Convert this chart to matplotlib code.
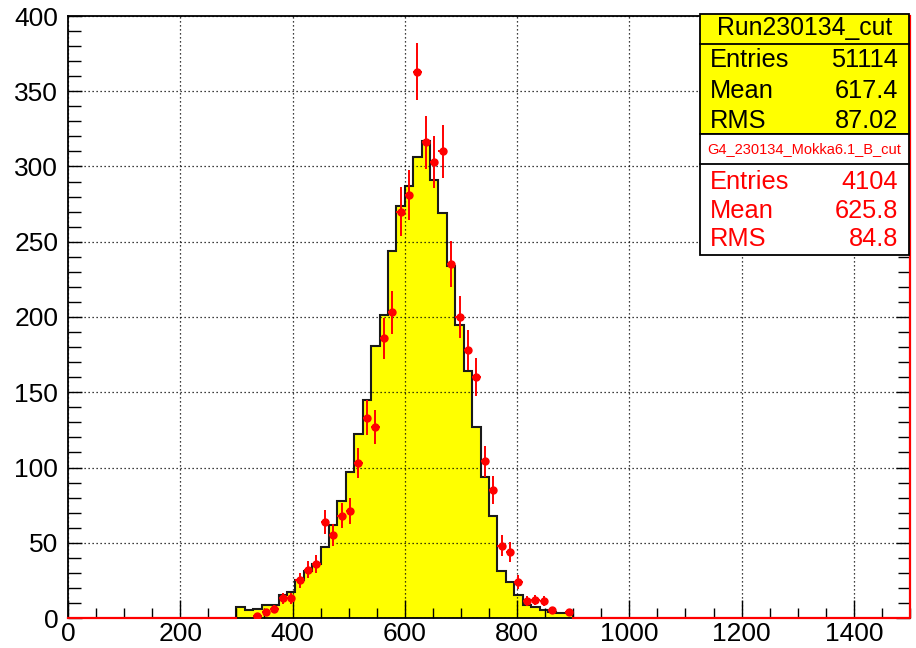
import numpy as np
import matplotlib
matplotlib.use("Agg")
import matplotlib.pyplot as plt
from matplotlib.patches import Rectangle
from matplotlib.lines import Line2D

plt.rcParams['font.family'] = ['Liberation Sans', 'DejaVu Sans']

# Binning: 100 bins of width 15 between 0 and 1500
x_min, x_max, bin_width = 0, 1500, 15
y_max = 400

# Filled histogram (Run230134_cut, normalised), bins from 300 to 900
data_first_edge = 300
data_counts = [7.5, 5, 6, 8.5, 8.5, 15, 17, 25, 31, 36,
               47, 62, 78, 97, 122, 145, 181, 201, 244, 274,
               287, 306, 317, 291, 269, 234, 195, 164, 127, 94,
               68, 31, 24, 15, 8.6, 7, 5.3, 4.2, 3.5, 3.5]

# Simulation points (G4_230134_Mokka6.1_B_cut), same bins from 300 to 900
sim_first_edge = 300
sim_counts = [0, 0, 1, 4, 6, 13, 13, 25, 32, 36,
              64, 55, 68, 71, 103, 133, 127, 186, 203, 270,
              281, 363, 316, 303, 310, 235, 200, 178, 160, 104,
              85, 48, 44, 24, 11, 12, 11, 5, 0, 4]

x_ticks = [0, 200, 400, 600, 800, 1000, 1200, 1400]
y_ticks = [0, 50, 100, 150, 200, 250, 300, 350, 400]

data_title = "Run230134_cut"
data_stats = [("Entries", "51114"), ("Mean", "617.4"), ("RMS", "87.02")]
sim_title = "G4_230134_Mokka6.1_B_cut"
sim_stats = [("Entries", "4104"), ("Mean", "625.8"), ("RMS", "84.8")]

W, H = 916, 648
fig = plt.figure(figsize=(W / 100, H / 100), dpi=100)
fig.patch.set_facecolor("white")
ax = fig.add_axes([68 / W, 1 - 618 / H, 842 / W, 602 / H])

data_counts = np.asarray(data_counts, dtype=float)
data_edges = data_first_edge + bin_width * np.arange(len(data_counts) + 1)
sim_counts = np.asarray(sim_counts, dtype=float)
sim_centers = sim_first_edge + bin_width * (np.arange(len(sim_counts)) + 0.5)

# red baseline of the simulation histogram outside the filled region, and its right edge
ax.plot([x_min, data_edges[0]], [0, 0], color="red", lw=1.6, zorder=3, clip_on=False)
ax.plot([data_edges[-1], x_max, x_max], [0, 0, y_max], color="red", lw=1.6,
        zorder=3, clip_on=False)

# filled histogram
ax.stairs(data_counts, data_edges, fill=True, color="#ffff00", zorder=2)
ax.stairs(data_counts, data_edges, baseline=0, fill=False, color="#1a1a1a",
          lw=1.5, zorder=2.2)

# simulation points with sqrt(N) errors
nz = sim_counts > 0
ax.errorbar(sim_centers[nz], sim_counts[nz], yerr=np.sqrt(sim_counts[nz]),
            xerr=bin_width / 2, fmt="o", color="red", ms=5, elinewidth=1.4,
            capsize=0, zorder=4)

ax.set_xlim(x_min, x_max)
ax.set_ylim(0, y_max)
ax.set_xticks(x_ticks)
ax.set_yticks(y_ticks)
ax.set_xticks(np.arange(x_min, x_max + 1, 50), minor=True)
ax.set_yticks(np.arange(0, y_max + 1, 10), minor=True)
ax.tick_params(which="both", direction="in", top=False, right=True,
               labelsize=19, width=1.0, color="black")
ax.tick_params(axis="x", which="major", length=13)
ax.tick_params(axis="x", which="minor", length=7)
ax.tick_params(axis="y", which="major", length=10)
ax.tick_params(axis="y", which="minor", length=9)
ax.tick_params(axis="x", pad=3)
ax.tick_params(axis="y", pad=7)
ax.grid(True, which="major", linestyle=(0, (1, 2.2)), color="black", lw=0.9)
ax.set_axisbelow(False)
for sp in ax.spines.values():
    sp.set_linewidth(1.3)
    sp.set_zorder(2.5)


def fx(px):
    return px / W


def fy(py):
    return 1 - py / H


# statistics boxes
bx0, bx1 = 699.5, 909
box_specs = [
    (13.5, 133.5, 43.5, "#ffff00", "black", data_title, data_stats, 17.8, [60, 90.5, 120.5]),
    (133.5, 255, 164, "white", "red", sim_title, sim_stats, 10.5, [182, 211, 239]),
]
for top, bot, sep, face, tcol, title, stats, tsize, rows in box_specs:
    fig.add_artist(Rectangle((fx(bx0), fy(bot)), fx(bx1) - fx(bx0), fy(top) - fy(bot),
                             transform=fig.transFigure, facecolor=face,
                             edgecolor="black", lw=1.3, zorder=5))
    fig.add_artist(Line2D([fx(bx0), fx(bx1)], [fy(sep), fy(sep)],
                          transform=fig.transFigure, color="black", lw=1.3, zorder=6))
    fig.text(fx((bx0 + bx1) / 2), fy((top + sep) / 2), title, color=tcol,
             fontsize=tsize, ha="center", va="center", zorder=7)
    for (name, val), ry in zip(stats, rows):
        fig.text(fx(710), fy(ry), name, color=tcol, fontsize=18.3,
                 ha="left", va="center", zorder=7)
        fig.text(fx(898), fy(ry), val, color=tcol, fontsize=18.3,
                 ha="right", va="center", zorder=7)

fig.savefig("out.png", dpi=100)
